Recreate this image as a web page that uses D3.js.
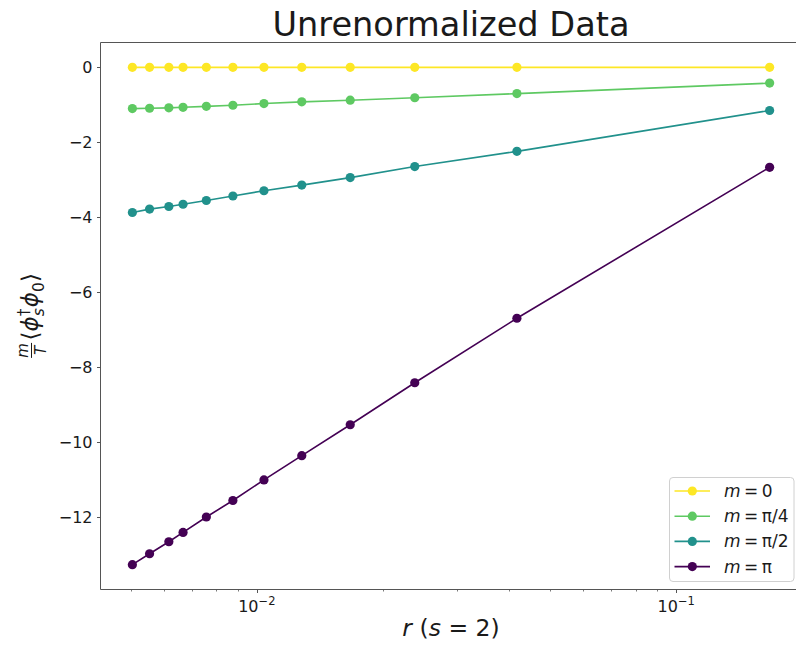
<!DOCTYPE html>
<html>
<head>
<meta charset="utf-8">
<script src="https://cdn.jsdelivr.net/npm/d3@7"></script>
<style>
  html, body { margin: 0; padding: 0; background: #fff; overflow: hidden; }
  svg { display: block; font-family: "DejaVu Sans", sans-serif; }
</style>
</head>
<body>
<svg id="chart" width="796" height="646"></svg>
<script>
// r values (s = 2)
const rValues = [0.00505, 0.00555, 0.00617, 0.00667, 0.00758, 0.00877, 0.0104, 0.0128, 0.0167, 0.0238, 0.0417, 0.167];

// correlator values for each mass
const mZero      = [0, 0, 0, 0, 0, 0, 0, 0, 0, 0, 0, 0];
const mQuarterPi = [-1.10, -1.09, -1.08, -1.065, -1.04, -1.01, -0.965, -0.92, -0.875, -0.81, -0.70, -0.42];
const mHalfPi    = [-3.87, -3.78, -3.71, -3.65, -3.55, -3.43, -3.29, -3.14, -2.94, -2.645, -2.24, -1.15];
const mPi        = [-13.26, -12.97, -12.65, -12.40, -11.99, -11.55, -11.00, -10.355, -9.53, -8.41, -6.69, -2.665];

const seriesNames  = ["0", "π/4", "π/2", "π"];
const seriesValues = [mZero, mQuarterPi, mHalfPi, mPi];
const seriesColors = ["#fde725", "#5ec962", "#21918c", "#440154"];

const yTicks = [0, -2, -4, -6, -8, -10, -12];
const xMajorTicks = [0.01, 0.1];
const xMajorExponents = ["−2", "−1"];
const xMinorTicks = [0.005, 0.006, 0.007, 0.008, 0.009, 0.02, 0.03, 0.04, 0.05, 0.06, 0.07, 0.08, 0.09];

const titleText = "Unrenormalized Data";

const svg = d3.select("#chart");
const plot = { left: 100.5, right: 801.5, top: 42.5, bottom: 589.5 };

// log-space margins of 5% on each side, as in the default autoscale
const lx = rValues.map(Math.log10);
const lxMin = d3.min(lx), lxMax = d3.max(lx), lxR = lxMax - lxMin;
const x = d3.scaleLog()
  .domain([Math.pow(10, lxMin - 0.05 * lxR), Math.pow(10, lxMax + 0.05 * lxR)])
  .range([plot.left, plot.right]);

const allY = seriesValues.flat();
const yMin = d3.min(allY), yMax = d3.max(allY), yR = yMax - yMin;
const y = d3.scaleLinear()
  .domain([yMin - 0.05 * yR, yMax + 0.05 * yR])
  .range([plot.bottom, plot.top]);

svg.append("defs").append("clipPath").attr("id", "clip")
  .append("rect").attr("x", plot.left).attr("y", plot.top)
  .attr("width", plot.right - plot.left).attr("height", plot.bottom - plot.top);

const spineColor = "#555";
const textColor = "#1a1a1a";

// series: lines with round markers
const line = d3.line().x((d, i) => x(rValues[i])).y(d => y(d));
const seriesG = svg.append("g").attr("clip-path", "url(#clip)");
seriesValues.forEach((vals, k) => {
  const g = seriesG.append("g");
  g.append("path").datum(vals)
    .attr("d", line)
    .attr("fill", "none")
    .attr("stroke", seriesColors[k])
    .attr("stroke-width", 1.6);
  g.selectAll("circle").data(vals).join("circle")
    .attr("cx", (d, i) => x(rValues[i]))
    .attr("cy", d => y(d))
    .attr("r", 4.6)
    .attr("fill", seriesColors[k]);
});

// spines (the right one lies past the visible edge)
const spines = svg.append("g").attr("stroke", spineColor).attr("stroke-width", 1).attr("fill", "none");
spines.append("line").attr("x1", plot.left).attr("x2", plot.left).attr("y1", plot.top).attr("y2", plot.bottom);
spines.append("line").attr("x1", plot.left).attr("x2", plot.right).attr("y1", plot.bottom).attr("y2", plot.bottom);
spines.append("line").attr("x1", plot.left).attr("x2", plot.right).attr("y1", plot.top).attr("y2", plot.top);

// y axis ticks and labels
const yAxisG = svg.append("g");
yTicks.forEach(t => {
  const yy = Math.round(y(t)) + 0.5;
  yAxisG.append("line").attr("x1", plot.left - 3.5).attr("x2", plot.left)
    .attr("y1", yy).attr("y2", yy).attr("stroke", spineColor).attr("stroke-width", 1);
  yAxisG.append("text")
    .attr("x", plot.left - 8).attr("y", y(t) + 5.8)
    .attr("text-anchor", "end").attr("font-size", 16).attr("fill", textColor)
    .text(t < 0 ? "−" + Math.abs(t) : String(t));
});

// x axis ticks and labels
const xAxisG = svg.append("g");
xMinorTicks.forEach(t => {
  const xx = Math.round(x(t)) + 0.5;
  if (xx > plot.right) return;
  xAxisG.append("line").attr("x1", xx).attr("x2", xx)
    .attr("y1", plot.bottom).attr("y2", plot.bottom + 2)
    .attr("stroke", spineColor).attr("stroke-width", 0.8);
});
xMajorTicks.forEach((t, i) => {
  const xx = Math.round(x(t)) + 0.5;
  xAxisG.append("line").attr("x1", xx).attr("x2", xx)
    .attr("y1", plot.bottom).attr("y2", plot.bottom + 3.5)
    .attr("stroke", spineColor).attr("stroke-width", 1);
  const tx = xAxisG.append("text")
    .attr("x", x(t)).attr("y", 611.5)
    .attr("text-anchor", "middle").attr("font-size", 16).attr("fill", textColor);
  tx.append("tspan").text("10");
  tx.append("tspan").attr("font-size", 11.5).attr("dy", -6.5).text(xMajorExponents[i]);
});

// title
svg.append("text")
  .attr("x", (plot.left + plot.right) / 2).attr("y", 36)
  .attr("text-anchor", "middle").attr("font-size", 33.6).attr("fill", textColor)
  .text(titleText);

// x axis label: r (s = 2)
const xl = svg.append("text")
  .attr("x", (plot.left + plot.right) / 2).attr("y", 636)
  .attr("text-anchor", "middle").attr("font-size", 23.5).attr("fill", textColor);
xl.append("tspan").attr("font-style", "italic").text("r");
xl.append("tspan").text(" (");
xl.append("tspan").attr("font-style", "italic").text("s");
xl.append("tspan").text(" = 2)");

// y axis label: (m/T) <phi_s^dagger phi_0>
const ylOuter = svg.append("g").attr("transform", `translate(38,${(plot.top + plot.bottom) / 2}) rotate(-90)`);
const yl = ylOuter.append("g").attr("fill", textColor);
function piece(txt, size, italic, px, py, anchor) {
  const t = yl.append("text").attr("x", px).attr("y", py).attr("font-size", size)
    .attr("font-style", italic ? "italic" : "normal")
    .attr("text-anchor", anchor || "start").text(txt);
  return t.node().getComputedTextLength();
}
let cx = 0;
const fracW = 17;
piece("m", 15, true, cx + fracW / 2, -10, "middle");
piece("T", 15, true, cx + fracW / 2, 7.5, "middle");
yl.append("line").attr("x1", cx + 1).attr("x2", cx + fracW - 1).attr("y1", -6.5).attr("y2", -6.5)
  .attr("stroke", textColor).attr("stroke-width", 1);
cx += fracW + 1.5;
cx += piece("⟨", 23, false, cx, 0);
cx += piece("ϕ", 23, true, cx, 0);
const w1 = piece("†", 15.5, false, cx, -9.5);
const w2 = piece("s", 15.5, true, cx, 5.5);
cx += Math.max(w1, w2) + 1;
cx += piece("ϕ", 23, true, cx, 0);
cx += piece("0", 15.5, false, cx, 5.5);
cx += piece("⟩", 23, false, cx, 0);
yl.attr("transform", `translate(${-cx / 2},0)`);

// legend
const legendG = svg.append("g");
const lg = { x: 669.5, y: 477.5, w: 124.5, h: 104 };
legendG.append("rect").attr("x", lg.x).attr("y", lg.y).attr("width", lg.w).attr("height", lg.h)
  .attr("rx", 3.5).attr("fill", "#fff").attr("fill-opacity", 0.8)
  .attr("stroke", "#d0d0d0").attr("stroke-width", 1);
seriesNames.forEach((name, k) => {
  const cy = 491 + k * 25.2;
  legendG.append("line").attr("x1", 674.5).attr("x2", 710).attr("y1", cy).attr("y2", cy)
    .attr("stroke", seriesColors[k]).attr("stroke-width", 1.6);
  legendG.append("circle").attr("cx", 692.3).attr("cy", cy).attr("r", 4.6).attr("fill", seriesColors[k]);
  const t = legendG.append("text").attr("x", 724).attr("y", cy + 6)
    .attr("font-size", 17).attr("fill", textColor);
  t.append("tspan").attr("font-style", "italic").text("m");
  t.append("tspan").attr("dx", 3.5).text("=");
  t.append("tspan").attr("dx", 3.5).text(name);
});
</script>
</body>
</html>
